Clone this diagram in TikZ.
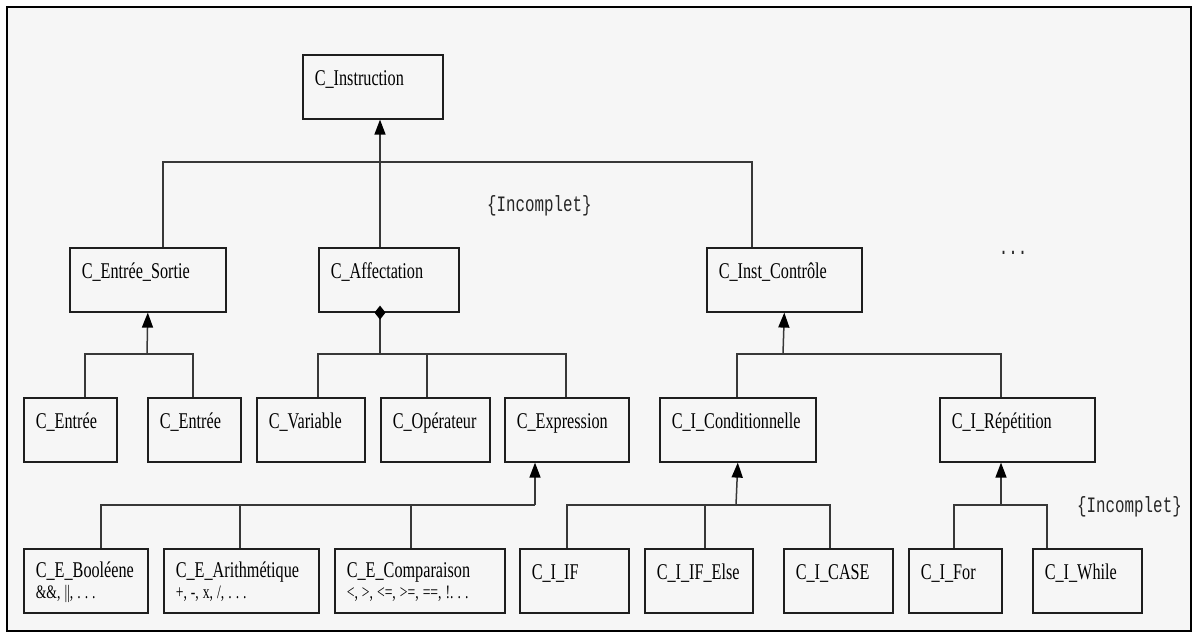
\documentclass[tikz,border=0pt]{standalone}
\usepackage{fontspec}
\setmainfont[FakeStretch=0.72]{Liberation Serif}
\newfontfamily\monof[FakeStretch=0.72]{Liberation Mono}
\usetikzlibrary{arrows.meta,calc}
\definecolor{bgc}{HTML}{F6F6F6}
\definecolor{linec}{HTML}{383838}
\definecolor{boxc}{HTML}{1E1E1E}
\newcommand{\secline}[1]{{\fontsize{19}{21}\selectfont\frenchspacing\spaceskip=4pt\xspaceskip=4pt\relax #1}}
\begin{document}
\begin{tikzpicture}[x=1pt,y=-1pt,
  cls/.style={draw=boxc, line width=1.6pt, fill=bgc, anchor=north west,
    inner xsep=12pt, inner ysep=0pt, text height=31pt, text depth=33pt,
    align=left, text=black, font=\fontsize{22.5}{21}\selectfont},
  cls2/.style={cls, text height=29pt, text depth=35pt},
  conn/.style={draw=linec, line width=1.5pt},
  inh/.style={conn, -{Triangle[width=11pt,length=15pt,color=black]}},
  mono/.style={font=\monof\fontsize{22}{22}\selectfont, text=black!85, inner sep=0pt}]
\useasboundingbox (0,0) rectangle (1193,633);
\fill[white] (0,0) rectangle (1193,633);
\draw[line width=2.5pt, fill=bgc] (7,7) rectangle (1191,631);

% level 0
\node[cls, text width=116pt] (ins) at (302,54) {C\_Instruction};
% level 1
\node[cls, text width=132pt] (es) at (69,247) {C\_Entrée\_Sortie};
\node[cls, text width=116pt] (aff) at (318,247) {C\_Affectation};
\node[cls, text width=131pt] (ic) at (706,247) {C\_Inst\_Contrôle};
% level 2
\node[cls, text width=69pt] (e1) at (23,397) {C\_Entrée};
\node[cls, text width=69pt] (e2) at (147,397) {C\_Entrée};
\node[cls, text width=84pt] (var) at (256,397) {C\_Variable};
\node[cls, text width=85pt] (op) at (380,397) {C\_Opérateur};
\node[cls, text width=100pt] (expr) at (504,397) {C\_Expression};
\node[cls, text width=132pt] (cond) at (659,397) {C\_I\_Conditionnelle};
\node[cls, text width=131pt] (rep) at (939,397) {C\_I\_Répétition};
% level 3
\node[cls2, text width=100pt] (bool) at (23,548) {C\_E\_Booléene\\\secline{\&\&, ||, . . .}};
\node[cls2, text width=131pt] (arith) at (163,548) {C\_E\_Arithmétique\\\secline{+, -, x, /, . . .}};
\node[cls2, text width=146pt] (comp) at (334,548) {C\_E\_Comparaison\\\secline{<, >, <=, >=, ==, !. . .}};
\node[cls, text width=85pt] (if) at (519,548) {C\_I\_IF};
\node[cls, text width=84pt] (ifelse) at (644,548) {C\_I\_IF\_Else};
\node[cls, text width=85pt] (case) at (783,548) {C\_I\_CASE};
\node[cls, text width=69pt] (for) at (908,548) {C\_I\_For};
\node[cls, text width=85pt] (while) at (1032,548) {C\_I\_While};

% labels
\node[mono, anchor=base west] (inc1) at (487,211) {\{Incomplet\}};
\node[mono, anchor=base west] (inc2) at (1077,512) {\{Incomplet\}};
\node[mono, anchor=base] (dots) at (1013,254) {...};

% junctions
\coordinate (J0) at (380,162);
\coordinate (J1) at (147,354);
\coordinate (J2) at (380,354);
\coordinate (J3) at (783,354);
\coordinate (J4) at (535,505);
\coordinate (J5) at (736,505);
\coordinate (J6) at (1001,505);

% top level
\draw[conn] ($(es.north west)+(94,0)$) |- (J0) -| ($(ic.north west)+(46,0)$);
\draw[inh] ($(aff.north west)+(62,0)$) -- ($(ins.south west)+(78,0)$);

% entree/sortie
\draw[conn] ($(e1.north west)+(62,0)$) |- (J1) -| ($(e2.north west)+(46,0)$);
\draw[inh] (J1) -- (es.south);

% affectation (composition)
\draw[conn] ($(var.north west)+(62,0)$) |- (J2) -| ($(expr.north west)+(62,0)$);
\draw[conn] ($(op.north west)+(47,0)$) -- ($(op.north west)+(47,-43)$);
\draw[conn, {Diamond[width=11pt,length=14pt,color=black]}-] ($(aff.south west)+(62,-7)$) -- (J2);

% inst controle
\draw[conn] ($(cond.north west)+(78,0)$) |- (J3) -| ($(rep.north west)+(62,0)$);
\draw[inh] (J3) -- (ic.south);

% expression
\draw[conn] ($(bool.north west)+(78,0)$) |- (J4);
\draw[conn] ($(arith.north west)+(77,0)$) -- ($(arith.north west)+(77,-43)$);
\draw[conn] ($(comp.north west)+(77,0)$) -- ($(comp.north west)+(77,-43)$);
\draw[inh] (J4) -- ($(expr.south west)+(31,0)$);

% conditionnelle
\draw[conn] ($(if.north west)+(48,0)$) |- (J5) -| ($(case.north west)+(47,0)$);
\draw[conn] ($(ifelse.north west)+(61,0)$) -- ($(ifelse.north west)+(61,-43)$);
\draw[inh] (J5) -- (cond.south);

% repetition
\draw[conn] ($(for.north west)+(46,0)$) |- (J6) -| ($(while.north west)+(15,0)$);
\draw[inh] (J6) -- ($(rep.south west)+(62,0)$);
\end{tikzpicture}
\end{document}
